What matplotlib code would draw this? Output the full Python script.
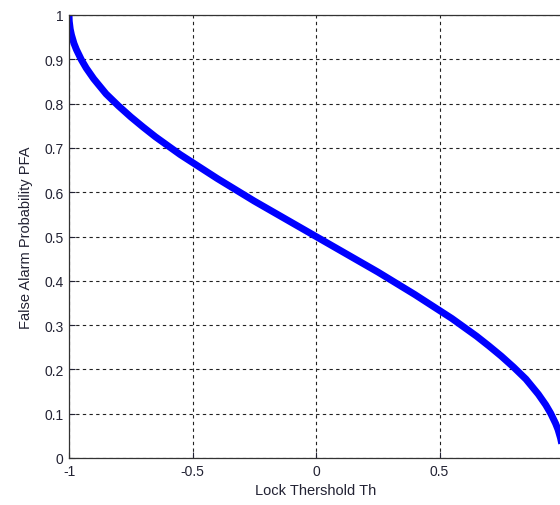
import matplotlib
matplotlib.use('Agg')
import matplotlib.pyplot as plt

# values (denser where it bends hard)
th = [-1.0, -0.999, -0.995, -0.99, -0.98, -0.97, -0.95, -0.93, -0.9, -0.85, -0.8,
      -0.75, -0.7, -0.65, -0.6, -0.55, -0.5, -0.45, -0.4, -0.35, -0.3, -0.25, -0.2,
      -0.15, -0.1, -0.05, 0.0, 0.05, 0.1, 0.15, 0.2, 0.25, 0.3, 0.35, 0.4, 0.45, 0.5,
      0.55, 0.6, 0.65, 0.7, 0.75, 0.8, 0.85, 0.9, 0.93, 0.95, 0.97, 0.98, 0.99,
      0.995, 0.999, 1.0]
pfa = [1.0, 0.986, 0.968, 0.955, 0.936, 0.922, 0.899, 0.880, 0.856, 0.822, 0.795,
       0.770, 0.747, 0.725, 0.705, 0.685, 0.667, 0.649, 0.631, 0.614, 0.597, 0.580, 0.564,
       0.548, 0.532, 0.516, 0.5, 0.484, 0.468, 0.452, 0.436, 0.420, 0.403, 0.386, 0.369,
       0.351, 0.333, 0.315, 0.295, 0.275, 0.253, 0.230, 0.205, 0.178, 0.144, 0.120,
       0.101, 0.078, 0.064, 0.045, 0.032, 0.014, 0.0]

xticks = [-1, -0.5, 0, 0.5, 1]
xticklabels = ['-1', '-0.5', '0', '0.5', '1']
yticks = [0, 0.1, 0.2, 0.3, 0.4, 0.5, 0.6, 0.7, 0.8, 0.9, 1]
yticklabels = ['0', '0.1', '0.2', '0.3', '0.4', '0.5', '0.6', '0.7', '0.8', '0.9', '1']

plt.rcParams['font.family'] = ['Liberation Sans', 'DejaVu Sans']

fig = plt.figure(figsize=(5.6, 5.06), dpi=100)
# the reference is cropped on the right: x = 1 falls just past the image edge
ax = fig.add_axes([69 / 560, 47 / 506, 494 / 560, 443 / 506])

ax.plot(th, pfa, color='#0000ff', linewidth=5, solid_joinstyle='round')

ax.set_xlim(-1, 1)
ax.set_ylim(0, 1)
ax.set_xticks(xticks)
ax.set_xticklabels(xticklabels)
ax.set_yticks(yticks)
ax.set_yticklabels(yticklabels)
ax.tick_params(direction='in', length=4, labelsize=10, colors='#222233', pad=4)
ax.grid(True, color='#222222', linestyle=(0, (3, 3)), linewidth=0.8)

for s in ax.spines.values():
    s.set_color('#333333')
    s.set_linewidth(0.9)

ax.set_xlabel('Lock Thershold Th', fontsize=10.5, color='#222233', labelpad=4)
ax.set_ylabel('False Alarm Probability PFA', fontsize=10.5, color='#222233', labelpad=8)

fig.savefig('out.png', dpi=100)
